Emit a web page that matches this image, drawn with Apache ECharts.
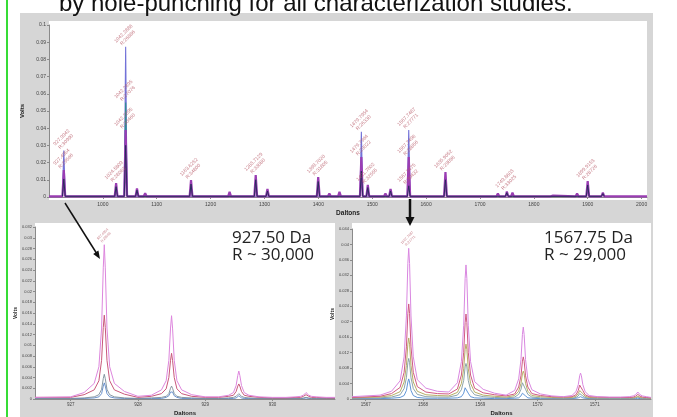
<!DOCTYPE html>
<html><head><meta charset="utf-8">
<script src="https://cdn.jsdelivr.net/npm/echarts@6/dist/echarts.min.js"></script>
<style>html,body{margin:0;padding:0;background:#fff}#c{width:677px;height:417px}</style>
</head><body><div id="c"></div>
<script>
// ---------- Top survey spectrum (Daltons vs Volts) ----------
const topPeakX = [927.49, 1024.55, 1042.29, 1063.3, 1078.5, 1084.2, 1163.63, 1187.6, 1235.2, 1283.71, 1305.5, 1340.7, 1399.70, 1420.4, 1439.2, 1479.79, 1491.76, 1507.1, 1524.5, 1534.0, 1567.75, 1580.6, 1600.8, 1635.91, 1661.0, 1695.3, 1733.2, 1745.1, 1749.86, 1760.3, 1828.4, 1835.6, 1880.2, 1899.92, 1928.1, 1960.5];
const topMagentaY = [0.0157, 0.0080, 0.0390, 0.0050, 0.0022, 0.0014, 0.0098, 0.0010, 0.0030, 0.0128, 0.0047, 0.0010, 0.0116, 0.0020, 0.0030, 0.0233, 0.0070, 0.0015, 0.0020, 0.0047, 0.0233, 0.0010, 0.0008, 0.0145, 0.0009, 0.0012, 0.0020, 0.0015, 0.0032, 0.0025, 0.0008, 0.0008, 0.0020, 0.0092, 0.0025, 0.0010];
const topBlueX = [927.49, 1042.29, 1479.79, 1567.75];
const topBlueY = [0.0270, 0.0874, 0.0380, 0.0390];
const topTealX = [1042.29];
const topTealY = [0.0550];
const topNavyX = [927.49, 1024.55, 1042.29, 1063.3, 1163.63, 1283.71, 1305.5, 1399.70, 1479.79, 1491.76, 1534.0, 1567.75, 1635.91, 1749.86, 1899.92, 1928.1];
const topNavyY = [0.0105, 0.0060, 0.0300, 0.0040, 0.0075, 0.0100, 0.0035, 0.0090, 0.0150, 0.0055, 0.0035, 0.0065, 0.0100, 0.0025, 0.0070, 0.0020];
const topLabelX = [927.49, 927.49, 1024.55, 1042.29, 1042.29, 1042.29, 1163.63, 1283.71, 1399.70, 1479.79, 1479.79, 1491.76, 1567.75, 1567.75, 1567.75, 1635.91, 1749.86, 1899.92];
const topLabelY = [0.0157, 0.0270, 0.0080, 0.0874, 0.0550, 0.0390, 0.0098, 0.0128, 0.0116, 0.0380, 0.0233, 0.0070, 0.0390, 0.0233, 0.0065, 0.0145, 0.0032, 0.0092];
const topLabelText = ["927.4954\nR:29566", "927.9942\nR:30990", "1024.5809\nR:28062", "1042.2886\nR:26886", "1042.2895\nR:27076", "1042.2895\nR:30460", "1163.6252\nR:34800", "1283.7129\nR:33080", "1399.7020\nR:31805", "1479.7954\nR:26330", "1479.7964\nR:29022", "1491.7602\nR:32555", "1567.7487\nR:27771", "1567.7496\nR:28856", "1567.7475\nR:30432", "1635.9052\nR:29896", "1749.8603\nR:33025", "1899.9153\nR:28726"];
const topXTicks = [1000, 1100, 1200, 1300, 1400, 1500, 1600, 1700, 1800, 1900, 2000];

// ---------- Bottom-left zoom: 927.50 Da ----------
const xL = [926.47, 927.0,
 927.2, 927.35, 927.42, 927.46, 927.485, 927.5, 927.515, 927.54, 927.58, 927.65, 927.8,
 928.0,
 928.2, 928.35, 928.42, 928.46, 928.485, 928.5, 928.515, 928.54, 928.58, 928.65, 928.8,
 929.0,
 929.2, 929.35, 929.42, 929.46, 929.485, 929.5, 929.515, 929.54, 929.58, 929.65, 929.8,
 930.0,
 930.2, 930.35, 930.42, 930.46, 930.485, 930.5, 930.515, 930.54, 930.58, 930.65, 930.8,
 930.93];
const pinkL = [0.0003, 0.0004,
 0.0012, 0.0029, 0.0060, 0.0132, 0.0244, 0.0287, 0.0244, 0.0132, 0.0060, 0.0029, 0.0014,
 0.0005,
 0.0007, 0.0017, 0.0034, 0.0072, 0.0132, 0.0155, 0.0132, 0.0072, 0.0034, 0.0017, 0.0008,
 0.0004,
 0.0004, 0.0007, 0.0012, 0.0025, 0.0044, 0.0052, 0.0044, 0.0025, 0.0012, 0.0007, 0.0004,
 0.0003,
 0.0003, 0.0004, 0.0005, 0.0007, 0.0010, 0.0012, 0.0010, 0.0007, 0.0005, 0.0004, 0.0003,
 0.0003];
const redL = [0.0003, 0.0003,
 0.0008, 0.0017, 0.0034, 0.0072, 0.0133, 0.0156, 0.0133, 0.0072, 0.0034, 0.0017, 0.0009,
 0.0003,
 0.0005, 0.0010, 0.0019, 0.0040, 0.0072, 0.0085, 0.0072, 0.0040, 0.0019, 0.0010, 0.0005,
 0.0003,
 0.0003, 0.0005, 0.0007, 0.0014, 0.0024, 0.0028, 0.0024, 0.0014, 0.0007, 0.0005, 0.0003,
 0.0002,
 0.0002, 0.0003, 0.0003, 0.0005, 0.0007, 0.0008, 0.0007, 0.0005, 0.0003, 0.0003, 0.0002,
 0.0002];
const grayL = [0.0001, 0.0001,
 0.0002, 0.0004, 0.0008, 0.0018, 0.0038, 0.0046, 0.0038, 0.0018, 0.0008, 0.0004, 0.0002,
 0.0001,
 0.0002, 0.0003, 0.0005, 0.0010, 0.0020, 0.0024, 0.0020, 0.0010, 0.0005, 0.0003, 0.0002,
 0.0001,
 0.0001, 0.0002, 0.0003, 0.0005, 0.0008, 0.0010, 0.0008, 0.0005, 0.0003, 0.0002, 0.0001,
 0.0001,
 0.0001, 0.0001, 0.0001, 0.0002, 0.0003, 0.0003, 0.0003, 0.0002, 0.0001, 0.0001, 0.0001,
 0.0001];
const blueL = [0.0001, 0.0001,
 0.0001, 0.0002, 0.0004, 0.0010, 0.0024, 0.0030, 0.0024, 0.0010, 0.0004, 0.0002, 0.0001,
 0.0001,
 0.0001, 0.0001, 0.0003, 0.0006, 0.0013, 0.0016, 0.0013, 0.0006, 0.0003, 0.0001, 0.0001,
 0.0001,
 0.0001, 0.0001, 0.0001, 0.0002, 0.0005, 0.0006, 0.0005, 0.0002, 0.0001, 0.0001, 0.0001,
 0.0001,
 0.0001, 0.0001, 0.0001, 0.0001, 0.0002, 0.0002, 0.0002, 0.0001, 0.0001, 0.0001, 0.0001,
 0.0001];
const leftXTicks = [927, 928, 929, 930];

// ---------- Bottom-right zoom: 1567.75 Da ----------
const xR = [1566.76, 1567.25,
 1567.45, 1567.6, 1567.67, 1567.71, 1567.735, 1567.75, 1567.765, 1567.79, 1567.83, 1567.9, 1568.05,
 1568.25,
 1568.45, 1568.6, 1568.67, 1568.71, 1568.735, 1568.75, 1568.765, 1568.79, 1568.83, 1568.9, 1569.05,
 1569.25,
 1569.45, 1569.6, 1569.67, 1569.71, 1569.735, 1569.75, 1569.765, 1569.79, 1569.83, 1569.9, 1570.05,
 1570.25,
 1570.45, 1570.6, 1570.67, 1570.71, 1570.735, 1570.75, 1570.765, 1570.79, 1570.83, 1570.9, 1571.05,
 1571.25,
 1571.45, 1571.6, 1571.67, 1571.71, 1571.735, 1571.75, 1571.765, 1571.79, 1571.83, 1571.9,
 1571.98];
const pinkR = [0.0006, 0.0010,
 0.0020, 0.0047, 0.0109, 0.0215, 0.0351, 0.0390, 0.0351, 0.0215, 0.0109, 0.0050, 0.0028,
 0.0020,
 0.0018, 0.0042, 0.0097, 0.0191, 0.0312, 0.0347, 0.0312, 0.0191, 0.0097, 0.0045, 0.0025,
 0.0015,
 0.0010, 0.0022, 0.0052, 0.0102, 0.0167, 0.0186, 0.0167, 0.0102, 0.0052, 0.0024, 0.0013,
 0.0008,
 0.0006, 0.0009, 0.0019, 0.0037, 0.0060, 0.0067, 0.0060, 0.0037, 0.0019, 0.0009, 0.0006,
 0.0005,
 0.0005, 0.0006, 0.0008, 0.0011, 0.0016, 0.0018, 0.0016, 0.0011, 0.0008, 0.0006,
 0.0004];
const redR = [0.0004, 0.0007,
 0.0014, 0.0030, 0.0069, 0.0135, 0.0221, 0.0246, 0.0221, 0.0135, 0.0069, 0.0032, 0.0018,
 0.0014,
 0.0013, 0.0026, 0.0062, 0.0121, 0.0198, 0.0220, 0.0198, 0.0121, 0.0062, 0.0028, 0.0016,
 0.0011,
 0.0008, 0.0013, 0.0031, 0.0060, 0.0098, 0.0109, 0.0098, 0.0060, 0.0031, 0.0014, 0.0009,
 0.0006,
 0.0005, 0.0006, 0.0011, 0.0022, 0.0036, 0.0040, 0.0036, 0.0022, 0.0011, 0.0006, 0.0005,
 0.0004,
 0.0004, 0.0004, 0.0005, 0.0007, 0.0011, 0.0012, 0.0011, 0.0007, 0.0005, 0.0004,
 0.0003];
const oliveR = [0.0003, 0.0005,
 0.0009, 0.0019, 0.0044, 0.0087, 0.0142, 0.0158, 0.0142, 0.0087, 0.0044, 0.0020, 0.0011,
 0.0009,
 0.0008, 0.0017, 0.0040, 0.0078, 0.0128, 0.0142, 0.0128, 0.0078, 0.0040, 0.0018, 0.0010,
 0.0007,
 0.0005, 0.0009, 0.0020, 0.0040, 0.0065, 0.0072, 0.0065, 0.0040, 0.0020, 0.0009, 0.0006,
 0.0004,
 0.0003, 0.0004, 0.0007, 0.0014, 0.0022, 0.0025, 0.0022, 0.0014, 0.0007, 0.0004, 0.0003,
 0.0003,
 0.0003, 0.0003, 0.0003, 0.0004, 0.0006, 0.0007, 0.0006, 0.0004, 0.0003, 0.0003,
 0.0002];
const tealR = [0.0002, 0.0003,
 0.0005, 0.0011, 0.0027, 0.0055, 0.0094, 0.0105, 0.0094, 0.0055, 0.0027, 0.0012, 0.0006,
 0.0005,
 0.0005, 0.0010, 0.0024, 0.0048, 0.0083, 0.0092, 0.0083, 0.0048, 0.0024, 0.0011, 0.0006,
 0.0004,
 0.0003, 0.0005, 0.0012, 0.0025, 0.0042, 0.0047, 0.0042, 0.0025, 0.0012, 0.0005, 0.0003,
 0.0002,
 0.0002, 0.0002, 0.0004, 0.0008, 0.0014, 0.0016, 0.0014, 0.0008, 0.0004, 0.0002, 0.0002,
 0.0002,
 0.0002, 0.0002, 0.0002, 0.0003, 0.0004, 0.0005, 0.0004, 0.0003, 0.0002, 0.0002,
 0.0002];
const blueR = [0.0001, 0.0001,
 0.0002, 0.0004, 0.0009, 0.0022, 0.0044, 0.0052, 0.0044, 0.0022, 0.0009, 0.0004, 0.0002,
 0.0002,
 0.0002, 0.0003, 0.0006, 0.0015, 0.0029, 0.0034, 0.0029, 0.0015, 0.0006, 0.0003, 0.0002,
 0.0001,
 0.0001, 0.0002, 0.0003, 0.0008, 0.0015, 0.0018, 0.0015, 0.0008, 0.0003, 0.0002, 0.0001,
 0.0001,
 0.0001, 0.0001, 0.0002, 0.0003, 0.0005, 0.0006, 0.0005, 0.0003, 0.0002, 0.0001, 0.0001,
 0.0001,
 0.0001, 0.0001, 0.0001, 0.0001, 0.0002, 0.0002, 0.0002, 0.0001, 0.0001, 0.0001,
 0.0001];
const rightXTicks = [1567, 1568, 1569, 1570, 1571];

const leftApex = [927.50, 0.0287, "927.4954\nR:29566"];
const rightApex = [1567.75, 0.0390, "1567.7487\nR:27771"];
const leftNote = "927.50 Da\nR ~ 30,000";
const rightNote = "1567.75 Da\nR ~ 29,000";
const headline = "by hole-punching for all characterization studies.";

// ---------- build ----------
const TOP_MIN = 900, TOP_MAX = 2010, BASE = 0.0004, HALF = 2.6;
function spikes(xs, ys, base, withEnds) {
  const pts = [];
  if (withEnds) pts.push([TOP_MIN, base]);
  xs.forEach((x, i) => { pts.push([x - HALF, base], [x, ys[i]], [x + HALF, base]); });
  if (withEnds) pts.push([TOP_MAX, base]);
  return pts;
}
const pairs = (xs, ys) => xs.map((x, i) => [x, ys[i]]);

const FONT = '"Liberation Sans", Arial, sans-serif';
const labelColor = '#b85a68';
function axisX(gi, min, max, ticks, nameGap, fs, off) {
  return {
    type: 'value', gridIndex: gi, min: min, max: max, offset: off || 0,
    axisLine: { show: true, lineStyle: { color: '#8a8a8a', width: 1 } },
    axisTick: { show: true, customValues: ticks, length: 2, lineStyle: { color: '#8a8a8a' } },
    axisLabel: { customValues: ticks, fontSize: fs, color: '#444', margin: 2, fontFamily: FONT, formatter: v => String(v) },
    splitLine: { show: false },
    name: 'Daltons', nameLocation: 'middle', nameGap: nameGap,
    nameTextStyle: { fontSize: fs + 1.5, fontWeight: 'bold', color: '#222', fontFamily: FONT }
  };
}
function axisY(gi, max, interval, nameGap, fs) {
  return {
    type: 'value', gridIndex: gi, min: 0, max: max, interval: interval,
    axisLine: { show: true, lineStyle: { color: '#8a8a8a', width: 1 } },
    axisTick: { show: true, length: 2, lineStyle: { color: '#8a8a8a' } },
    axisLabel: { fontSize: fs, color: '#444', margin: 3, fontFamily: FONT },
    splitLine: { show: false },
    name: 'Volts', nameLocation: 'middle', nameGap: nameGap, nameRotate: 90,
    nameTextStyle: { fontSize: fs + 1, fontWeight: 'bold', color: '#222', fontFamily: FONT }
  };
}
function lineSeries(xi, data, color, width, z) {
  return { type: 'line', xAxisIndex: xi, yAxisIndex: xi, data: data, showSymbol: false, symbol: 'none',
    lineStyle: { color: color, width: width }, z: z || 2, animation: false, silent: true };
}
function labelSeries(xi, xs, ys, texts, fs, dist) {
  return { type: 'scatter', xAxisIndex: xi, yAxisIndex: xi, symbolSize: 0, z: 5, animation: false, silent: true,
    data: xs.map((x, i) => ({ name: texts[i], value: [x, ys[i]] })),
    label: { show: true, formatter: '{b}', position: 'top', distance: dist, rotate: 45, align: 'center', verticalAlign: 'middle',
      fontSize: fs, lineHeight: fs + 1, color: labelColor, fontFamily: FONT } };
}

const chart = echarts.init(document.getElementById('c'), null, { renderer: 'canvas' });
chart.setOption({
  backgroundColor: '#ffffff',
  animation: false,
  grid: [
    { left: 49, top: 25, width: 598, height: 172 },
    { left: 35, top: 227, width: 300, height: 172 },
    { left: 352, top: 229, width: 299, height: 170 }
  ],
  xAxis: [
    axisX(0, TOP_MIN, TOP_MAX, topXTicks, 10, 5, 3),
    axisX(1, 926.47, 930.93, leftXTicks, 10, 4.5, 1),
    axisX(2, 1566.76, 1571.98, rightXTicks, 10, 4.5, 1)
  ],
  yAxis: [
    axisY(0, 0.1, 0.01, 19, 5),
    axisY(1, 0.032, 0.002, 11, 4),
    axisY(2, 0.044, 0.004, 11, 4)
  ],
  series: [
    lineSeries(0, spikes(topBlueX, topBlueY, BASE, false), '#7272d8', 1.1, 2),
    lineSeries(0, spikes(topTealX, topTealY, BASE, false), '#2f8f8f', 1.1, 3),
    lineSeries(0, spikes(topPeakX, topMagentaY, BASE, true), '#9a3db3', 2.2, 4),
    lineSeries(0, spikes(topNavyX, topNavyY, BASE, false), '#2a2c5c', 1, 4),
    labelSeries(0, topLabelX, topLabelY, topLabelText, 5, 11),

    lineSeries(1, pairs(xL, blueL), '#5a86c8', 0.9),
    lineSeries(1, pairs(xL, grayL), '#7c8c98', 0.9),
    lineSeries(1, pairs(xL, redL), '#c8587a', 1),
    lineSeries(1, pairs(xL, pinkL), '#dd86dd', 1),
    labelSeries(1, [leftApex[0]], [leftApex[1]], [leftApex[2]], 3.5, 9),

    lineSeries(2, pairs(xR, blueR), '#4f8ad2', 0.9),
    lineSeries(2, pairs(xR, tealR), '#7f9aa0', 0.9),
    lineSeries(2, pairs(xR, oliveR), '#b7ae66', 1),
    lineSeries(2, pairs(xR, redR), '#cf5a82', 1),
    lineSeries(2, pairs(xR, pinkR), '#d987e0', 1),
    labelSeries(2, [rightApex[0]], [rightApex[1]], [rightApex[2]], 3.5, 9)
  ],
  graphic: [
    { type: 'rect', z: -10, shape: { x: 20, y: 13, width: 633, height: 404 }, style: { fill: '#d6d6d6' }, silent: true },
    { type: 'rect', z: -9, shape: { x: 49, y: 21, width: 598, height: 179 }, style: { fill: '#ffffff' }, silent: true },
    { type: 'rect', z: -9, shape: { x: 35, y: 223, width: 300, height: 177 }, style: { fill: '#ffffff' }, silent: true },
    { type: 'rect', z: -9, shape: { x: 352, y: 223, width: 299, height: 177 }, style: { fill: '#ffffff' }, silent: true },
    { type: 'rect', z: 50, shape: { x: 6, y: 0, width: 2, height: 417 }, style: { fill: '#36dc36' }, silent: true },
    { type: 'text', z: 50, style: { text: headline, x: 59, y: 4, font: '24px "Liberation Sans", Arial, sans-serif', fill: '#111', align: 'left', verticalAlign: 'middle' }, silent: true },
    { type: 'line', z: 50, shape: { x1: 65, y1: 203, x2: 97, y2: 254 }, style: { stroke: '#111', lineWidth: 1.5 }, silent: true },
    { type: 'polygon', z: 50, shape: { points: [[100, 259], [93.2, 253.9], [98.4, 250.4]] }, style: { fill: '#111' }, silent: true },
    { type: 'line', z: 50, shape: { x1: 410, y1: 199, x2: 410, y2: 219 }, style: { stroke: '#111', lineWidth: 2.5 }, silent: true },
    { type: 'polygon', z: 50, shape: { points: [[410, 226], [405.5, 217], [414.5, 217]] }, style: { fill: '#111' }, silent: true },
    { type: 'text', z: 50, style: { text: leftNote, x: 232, y: 230, font: '17px "Open Sans", sans-serif', lineHeight: 17, fill: '#222', align: 'left', verticalAlign: 'top' }, silent: true },
    { type: 'text', z: 50, style: { text: rightNote, x: 544, y: 230, font: '17px "Open Sans", sans-serif', lineHeight: 17, fill: '#222', align: 'left', verticalAlign: 'top' }, silent: true }
  ]
});
</script></body></html>
